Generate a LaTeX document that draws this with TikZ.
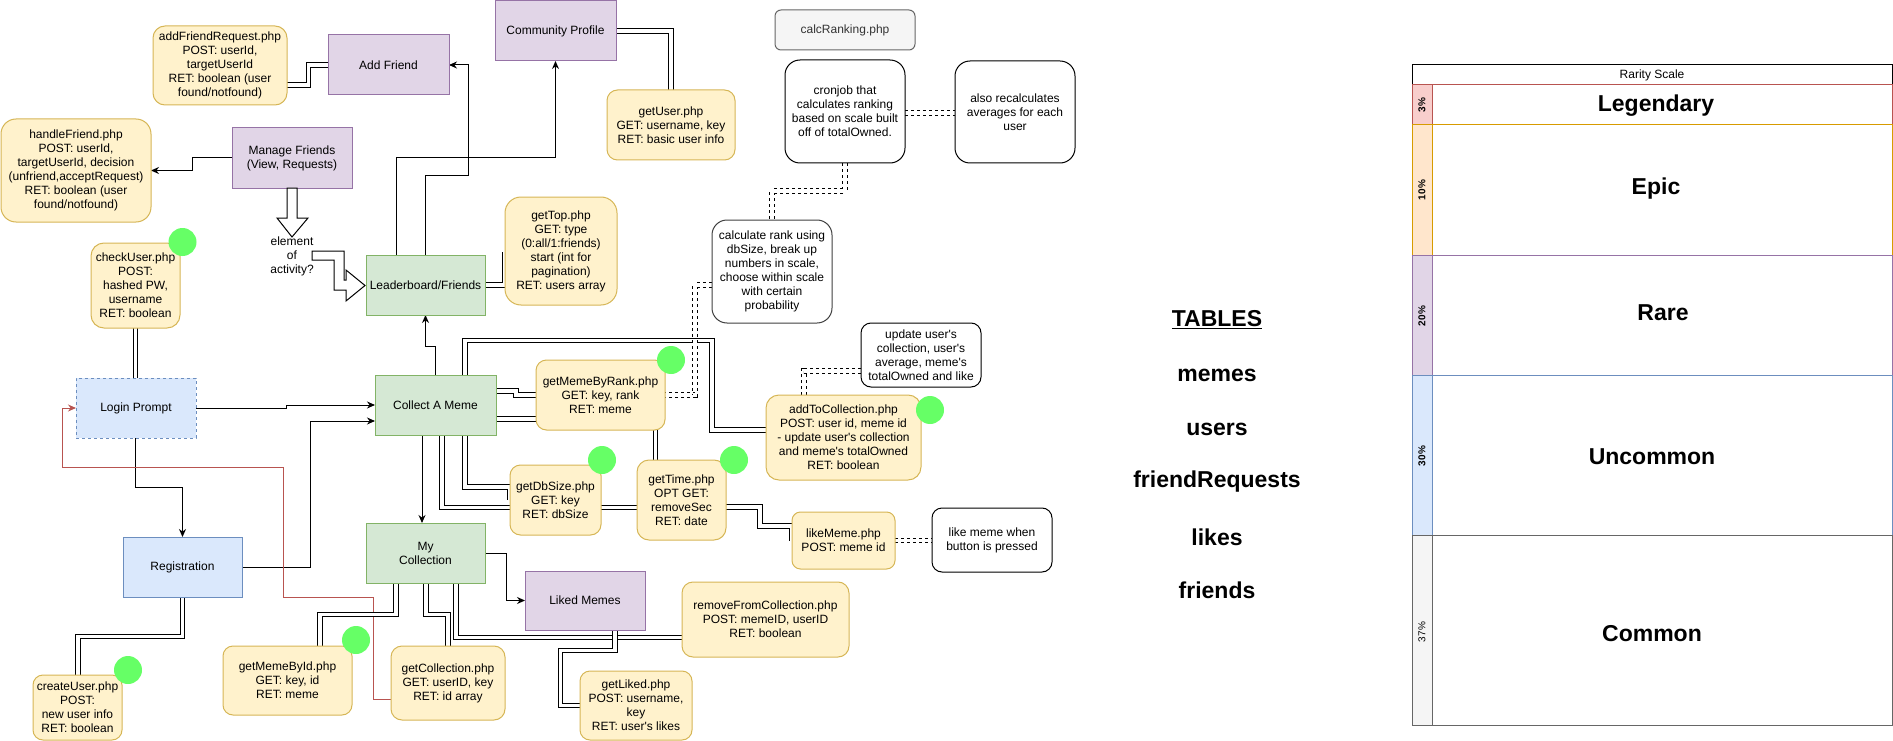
\documentclass[tikz,border=0pt]{standalone}
\usepackage{fontspec}
\setmainfont{Liberation Sans}[Ligatures=TeXOff]
\usetikzlibrary{arrows.meta}
\definecolor{yfill}{HTML}{FFF2CC}\definecolor{ystroke}{HTML}{D6B656}
\definecolor{gfill}{HTML}{D5E8D4}\definecolor{gstroke}{HTML}{82B366}
\definecolor{pfill}{HTML}{E1D5E7}\definecolor{pstroke}{HTML}{9673A6}
\definecolor{bfill}{HTML}{DAE8FC}\definecolor{bstroke}{HTML}{6C8EBF}
\definecolor{rfill}{HTML}{F8CECC}\definecolor{rstroke}{HTML}{B85450}
\definecolor{ofill}{HTML}{FFE6CC}\definecolor{ostroke}{HTML}{D79B00}
\definecolor{grfill}{HTML}{F5F5F5}\definecolor{grstroke}{HTML}{666666}
\definecolor{dotgreen}{HTML}{66FF66}
\definecolor{txtgray}{HTML}{333333}
\pgfdeclarelayer{bg}\pgfsetlayers{bg,main}
\tikzset{
 box/.style={draw, line width=1pt, inner sep=0pt, outer sep=0pt, align=center, font=\fontsize{12}{14}\selectfont},
 ybox/.style={box, fill=yfill, draw=ystroke},
 gbox/.style={box, fill=gfill, draw=gstroke},
 pbox/.style={box, fill=pfill, draw=pstroke},
 bbox/.style={box, fill=bfill, draw=bstroke},
 wbox/.style={box, fill=white, draw=black},
 arr/.style={line width=1pt, -{Stealth[length=8pt,width=7pt]}},
 rarr/.style={line width=1pt, draw=rstroke, -{Stealth[length=8pt,width=7pt]}},
 dbl/.style={line width=0.9pt, double, double distance=3.4pt},
 ddbl/.style={line width=0.9pt, double, double distance=3.4pt, dashed},
 gdot/.style={circle, fill=dotgreen, minimum size=28pt, inner sep=0pt},
 flex/.style={line width=1pt, draw=black, fill=white},
 tbl/.style={font=\fontsize{23}{27}\selectfont\bfseries},
 pct/.style={rotate=90, font=\fontsize{10}{12}\selectfont\bfseries},
}
\begin{document}
\begin{tikzpicture}[x=1pt,y=-1pt]
\useasboundingbox (0,0) rectangle (1893,741);
% nodes
\node[ybox, minimum width=134pt, minimum height=79pt, rounded corners=12pt] (afr) at (220,65.5) {addFriendRequest.php\\POST: userId,\\targetUserId\\RET: boolean (user\\found/notfound)};
\node[pbox, minimum width=121pt, minimum height=60pt] (addf) at (388.5,65) {Add Friend};
\node[pbox, minimum width=121pt, minimum height=60pt] (cp) at (555.5,31) {Community Profile};
\node[ybox, minimum width=128pt, minimum height=70pt, rounded corners=10.5pt] (gu) at (671,125) {getUser.php\\GET: username, key\\RET: basic user info};
\node[box, fill=grfill, draw=grstroke, text=txtgray, minimum width=140pt, minimum height=40pt, rounded corners=6pt] (calc) at (845,30) {calcRanking.php};
\node[wbox, minimum width=120pt, minimum height=103pt, rounded corners=15pt] (cron) at (845,111.5) {cronjob that\\calculates ranking\\based on scale built\\off of totalOwned.};
\node[wbox, minimum width=120pt, minimum height=102pt, rounded corners=15pt] (also) at (1015,112) {also recalculates\\averages for each\\user};
\node[wbox, draw=black!75, minimum width=120pt, minimum height=103pt, rounded corners=15pt] (crank) at (772,271.5) {calculate rank using\\dbSize, break up\\numbers in scale,\\choose within scale\\with certain\\probability};
\node[pbox, minimum width=120pt, minimum height=60pt] (mf) at (292,158) {Manage Friends\\(View, Requests)};
\node[ybox, minimum width=150pt, minimum height=103pt, rounded corners=15pt] (hf) at (76,170.5) {handleFriend.php\\POST: userId,\\targetUserId, decision\\(unfriend,acceptRequest)\\RET: boolean (user\\found/notfound)};
\node[ybox, minimum width=89pt, minimum height=85pt, rounded corners=13pt] (cu) at (135.5,285.5) {checkUser.php\\POST:\\hashed PW,\\username\\RET: boolean};
\node[gbox, minimum width=119pt, minimum height=60pt] (lb) at (425.5,285) {Leaderboard/Friends};
\node[ybox, minimum width=112pt, minimum height=108pt, rounded corners=16pt] (gt) at (561,251) {getTop.php\\GET: type\\(0:all/1:friends)\\start (int for\\pagination)\\RET: users array};
\node[bbox, dashed, minimum width=120pt, minimum height=60pt] (lp) at (136,408) {Login Prompt};
\node[gbox, minimum width=121pt, minimum height=60pt] (cam) at (435.5,405) {Collect A Meme};
\node[ybox, minimum width=129pt, minimum height=70pt, rounded corners=10.5pt] (gmr) at (600.5,395) {getMemeByRank.php\\GET: key, rank\\RET: meme};
\node[wbox, minimum width=120pt, minimum height=64pt, rounded corners=10pt] (upd) at (921,355) {update user's\\collection, user's\\average, meme's\\totalOwned and like};
\node[ybox, minimum width=155pt, minimum height=85pt, rounded corners=13pt] (atc) at (843.5,437.5) {addToCollection.php\\POST: user id, meme id\\- update user's collection\\and meme's totalOwned\\RET: boolean};
\node[ybox, minimum width=91pt, minimum height=70pt, rounded corners=10.5pt] (gds) at (555.5,500) {getDbSize.php\\GET: key\\RET: dbSize};
\node[ybox, minimum width=89pt, minimum height=80pt, rounded corners=12pt] (gtm) at (681.5,500) {getTime.php\\OPT GET:\\removeSec\\RET: date};
\node[ybox, minimum width=103pt, minimum height=57pt, rounded corners=8.5pt] (lm) at (843.5,540.5) {likeMeme.php\\POST: meme id};
\node[wbox, minimum width=120pt, minimum height=64pt, rounded corners=10pt] (lmb) at (992,540) {like meme when\\button is pressed};
\node[bbox, minimum width=119pt, minimum height=60pt] (reg) at (182.5,567) {Registration};
\node[gbox, minimum width=119pt, minimum height=60pt] (mc) at (425.5,553) {My\\Collection};
\node[pbox, minimum width=120pt, minimum height=59pt] (lkm) at (585,600.5) {Liked Memes};
\node[ybox, minimum width=167pt, minimum height=75pt, rounded corners=11pt] (rfc) at (765.5,619.5) {removeFromCollection.php\\POST: memeID, userID\\RET: boolean};
\node[ybox, minimum width=89pt, minimum height=65pt, rounded corners=10pt] (cru) at (77.5,707.5) {createUser.php\\POST:\\new user info\\RET: boolean};
\node[ybox, minimum width=129pt, minimum height=69pt, rounded corners=10pt] (gmi) at (287.5,680.5) {getMemeById.php\\GET: key, id\\RET: meme};
\node[ybox, minimum width=114pt, minimum height=74pt, rounded corners=11pt] (gc) at (448,683) {getCollection.php\\GET: userID, key\\RET: id array};
\node[ybox, minimum width=112pt, minimum height=69pt, rounded corners=10pt] (gl) at (636,705.5) {getLiked.php\\POST: username,\\key\\RET: user's likes};
\node[align=center, inner sep=0pt, font=\fontsize{12}{14}\selectfont] (eoa) at (292,256) {element\\of\\activity?};
% green dots
\node[gdot] (d1) at (182.5,242) {};
\node[gdot] (d2) at (671,360) {};
\node[gdot] (d3) at (930,410) {};
\node[gdot] (d4) at (602,460) {};
\node[gdot] (d5) at (734,460) {};
\node[gdot] (d6) at (356,640) {};
\node[gdot] (d7) at (128,670) {};
% flex arrows
\draw[flex] (287,188) -- (297,188) -- (297,218) -- (308,218) -- (292,237) -- (277,218) -- (287,218) -- cycle;
\draw[flex] (312,251) -- (344,251) -- (344,280) -- (346,280) -- (346,270) -- (365,285.5) -- (346,301) -- (346,290) -- (334,290) -- (334,260) -- (312,260) -- cycle;
% connectors
\begin{pgfonlayer}{bg}
\draw[arr] ([xshift=-29.5pt]lb.north) -- (396,158) -- (555.5,158) -- (cp.south);
\draw[arr] ([xshift=-0.5pt]lb.north) -- (425,175) -- (468,175) -- (468,65) -- (addf.east);
\draw[arr] (mf.west) -- (192,158) -- (192,170.5) -- (hf.east);
\draw[arr] ([xshift=-0.5pt]cam.north) -- (435,346) -- (425.5,346) -- (lb.south);
\draw[arr] (lp.east) -- (286,408) -- (286,405) -- (cam.west);
\draw[arr] (reg.east) -- (310,567) -- (310,421) -- ([yshift=-16pt]cam.west);
\draw[arr] ([xshift=-1pt]lp.south) -- (135,487) -- (182.5,487) -- (reg.north);
\draw[rarr] ([yshift=-16pt]gc.west) -- (373,699) -- (373,597) -- (283,597) -- (283,467) -- (62,467) -- (62,408) -- (lp.west);
\draw[arr] ([xshift=-13.5pt]cam.south) -- ([xshift=-3.5pt]mc.north);
\draw[arr] (mc.east) -- (506,553) -- (506,600.5) -- (lkm.west);
% double links
\draw[dbl] (addf.west) -- (308.5,65) -- (308.5,85) -- ([yshift=-19.5pt]afr.east);
\draw[dbl] (cp.east) -- (671,31) -- (gu.north);
\draw[dbl] (lb.east) -- (505,285) -- (505,252);
\draw[dbl] ([yshift=14pt]cam.east) -- (516,391) -- (516,395) -- (gmr.west);
\draw[dbl] ([yshift=-14pt]cam.east) -- ([yshift=-24pt]gmr.west);
\draw[dbl] ([xshift=29.5pt]cam.north) -- (465,340.5) -- (712,340.5) -- (712,430) -- ([yshift=7.5pt]atc.west);
\draw[dbl] ([xshift=29.5pt]cam.south) -- (465,487) -- (510,487) -- (gds.west);
\draw[dbl] ([xshift=6.5pt]cam.south) -- (442,507.5) -- ([yshift=-7.5pt]gtm.west);
\draw[dbl] ([yshift=-7pt]gtm.east) -- (760,507) -- (760,526) -- (792,526) -- (lm.west);
\draw[dbl] ([xshift=55pt]gmr.south) -- ([xshift=-26pt]gtm.north);
\draw[dbl] ([xshift=-29.5pt]mc.south) -- (396,614.5) -- (320,614.5) -- ([xshift=32.5pt]gmi.north);
\draw[dbl] ([xshift=0.5pt]mc.south) -- (426,614.5) -- (448,614.5) -- (gc.north);
\draw[dbl] ([xshift=30.5pt]mc.south) -- (456,637.5) -- ([yshift=-18pt]rfc.west);
\draw[dbl] ([xshift=30pt]lkm.south) -- (615,650.5) -- (560.5,650.5) -- (560.5,705.5) -- (gl.west);
\draw[dbl] (reg.south) -- (182.5,636.5) -- (78,636.5) -- ([xshift=0.5pt]cru.north);
\draw[dbl] (cu.south) -- (cu.south |- lp.north);
% dashed double links
\draw[ddbl] ([yshift=-1.5pt]cron.east) -- ([yshift=-1pt]also.west);
\draw[ddbl] (cron.south) -- (845,191) -- (772,191) -- (crank.north);
\draw[ddbl] ([yshift=-13.5pt]crank.west) -- (695,285) -- (695,395) -- (gmr.east);
\draw[ddbl] ([xshift=-39.5pt]atc.north) -- (804,371) -- ([yshift=-16pt]upd.west);
\draw[ddbl] (lm.east) -- ([yshift=-0.5pt]lmb.west);
\end{pgfonlayer}
% tables
\node[tbl] (tt) at (1217,320) {\underline{TABLES}};
\node[tbl] (t1) at (1217,375) {memes};
\node[tbl] (t2) at (1217,429) {users};
\node[tbl] (t3) at (1217,482) {friendRequests};
\node[tbl] (t4) at (1217,537) {likes};
\node[tbl] (t5) at (1217,590) {friends};
% rarity scale
\draw[line width=1pt, fill=white] (1412,65) rectangle (1892,85);
\node[font=\fontsize{12}{14}\selectfont] (rs) at (1652,75) {Rarity Scale};
\draw[line width=1pt, draw=rstroke, fill=rfill] (1412,85) rectangle (1432,125);
\draw[line width=1pt, draw=rstroke] (1432,85) rectangle (1892,125);
\node[pct] (p1) at (1422,105) {3\%};
\node[tbl] (r1) at (1656,106) {Legendary};
\draw[line width=1pt, draw=ostroke, fill=ofill] (1412,125) rectangle (1432,255);
\draw[line width=1pt, draw=ostroke] (1432,125) rectangle (1892,255);
\node[pct] (p2) at (1422,190) {10\%};
\node[tbl] (r2) at (1656,189) {Epic};
\draw[line width=1pt, draw=pstroke, fill=pfill] (1412,255) rectangle (1432,375);
\draw[line width=1pt, draw=pstroke] (1432,255) rectangle (1892,375);
\node[pct] (p3) at (1422,316) {20\%};
\node[tbl] (r3) at (1663,313) {Rare};
\draw[line width=1pt, draw=bstroke, fill=bfill] (1412,375) rectangle (1432,535);
\draw[line width=1pt, draw=bstroke] (1432,375) rectangle (1892,535);
\node[pct] (p4) at (1422,456) {30\%};
\node[tbl] (r4) at (1652,457) {Uncommon};
\draw[line width=1pt, draw=grstroke, fill=grfill] (1412,535) rectangle (1432,725);
\draw[line width=1pt, draw=grstroke] (1432,535) rectangle (1892,725);
\node[pct, font=\fontsize{10}{12}\selectfont] (p5) at (1422,632) {37\%};
\node[tbl] (r5) at (1652,634) {Common};
\end{tikzpicture}
\end{document}
